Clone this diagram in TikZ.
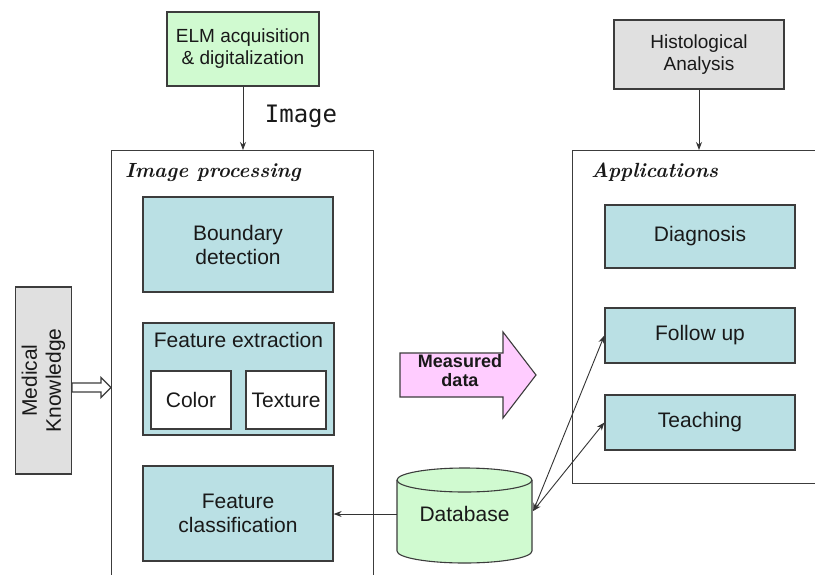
\documentclass[tikz,border=0pt]{standalone}
\usepackage{fontspec}
\newfontfamily\arial{Liberation Sans}
\newfontfamily\monof{DejaVu Sans Mono}
\usetikzlibrary{arrows.meta,calc}
\definecolor{tealbox}{RGB}{186,224,228}
\definecolor{greenbox}{RGB}{208,250,208}
\definecolor{graybox}{RGB}{224,224,224}
\definecolor{pinkbox}{RGB}{255,204,255}
\definecolor{linec}{RGB}{60,60,60}
\definecolor{txt}{RGB}{25,25,25}
\tikzset{
  box/.style={draw=linec, line width=1.3pt, fill=tealbox, inner sep=0pt, align=center,
    text=txt, font=\arial\fontsize{21}{24}\selectfont},
  whitebox/.style={box, fill=white},
  topbox/.style={box, font=\arial\fontsize{19}{22}\selectfont},
  frame/.style={draw=linec, line width=1.3pt, inner sep=0pt, anchor=north west},
  title/.style={anchor=base west, inner sep=0pt, text=txt, font=\fontsize{20.5}{24}\selectfont\bfseries\itshape},
  conn/.style={draw=black!80, line width=0.9pt, -{Stealth[length=8pt,width=6pt]}},
  conn2/.style={draw=black!80, line width=0.9pt, {Stealth[length=8pt,width=6pt]}-{Stealth[length=8pt,width=6pt]}},
}
\begin{document}
\begin{tikzpicture}[x=1pt,y=-1pt]
\clip (0,0) rectangle (815,574);
\fill[white] (0,0) rectangle (815,574);

% containers
\node[frame, minimum width=262, minimum height=460] (ip) at (111,150) {};
\node[frame, minimum width=260, minimum height=333] (apps) at (572,150) {};
\node[title] (iptitle) at (125,177) {Image processing};
\node[title] (apptitle) at (591,177) {Applications};

% top boxes
\node[topbox, fill=greenbox, minimum width=152, minimum height=74] (elm) at (243,49) {ELM acquisition\\\& digitalization};
\node[topbox, fill=graybox, minimum width=170, minimum height=69] (hist) at (699,54.5) {Histological\\Analysis};
\node[inner sep=0pt, text=txt, font=\monof\fontsize{24}{26}\selectfont] (imglabel) at (301,116) {Image};

% image processing boxes
\node[box, minimum width=190, minimum height=95] (bd) at (238,244.5) {Boundary\\detection};
\node[box, minimum width=191, minimum height=112] (fe) at (238.5,379) {};
\node[anchor=base, inner sep=0pt, text=txt, font=\arial\fontsize{21}{24}\selectfont] (fetitle) at (238.5,347) {Feature extraction};
\node[whitebox, minimum width=80, minimum height=58] (color) at (191,400) {Color};
\node[whitebox, minimum width=80, minimum height=58] (texture) at (286,400) {Texture};
\node[box, minimum width=190, minimum height=95] (fc) at (238,513.5) {Feature\\classification};

% applications boxes
\node[box, minimum width=190, minimum height=63] (diag) at (700,236.5) {Diagnosis};
\node[box, minimum width=190, minimum height=55] (fu) at (700,335.5) {Follow up};
\node[box, minimum width=190, minimum height=55] (teach) at (700,422.5) {Teaching};

% medical knowledge
\node[box, fill=graybox, minimum width=56, minimum height=187] (med) at (43.5,380.5) {};
\node[rotate=90, align=center, inner sep=0pt, text=txt, font=\arial\fontsize{21}{24}\selectfont] (medtext) at (med.center) {Medical\\Knowledge};

% hollow arrow
\coordinate (ma) at ($(med.east)+(0,7)$);
\coordinate (mt) at (ma -| ip.west);
\draw[draw=linec, line width=1.1pt, fill=white, line join=miter]
  ($(ma)+(0,-4.5)$) -- ($(mt)+(-10,-4.5)$) -- ($(mt)+(-10,-10)$) -- (mt)
  -- ($(mt)+(-10,10)$) -- ($(mt)+(-10,4.5)$) -- ($(ma)+(0,4.5)$) -- cycle;

% measured data arrow
\draw[draw=linec, line width=1.1pt, fill=pinkbox]
  (400,353) -- (503,353) -- (503,332) -- (536,375) -- (503,418) -- (503,397) -- (400,397) -- cycle;
\node[align=center, inner sep=0pt, text=txt, font=\arial\bfseries\fontsize{18}{19}\selectfont] (md) at (460,371) {Measured\\data};

% database cylinder
\fill[greenbox] (397,480) -- (397,551) arc[start angle=180, end angle=0, x radius=67.5, y radius=12] -- (532,480) -- cycle;
\draw[linec, line width=1.1pt] (397,480) -- (397,551) arc[start angle=180, end angle=0, x radius=67.5, y radius=12] -- (532,480);
\draw[linec, line width=1.1pt, fill=greenbox] (464.5,480) ellipse[x radius=67.5, y radius=12];
\node[inner sep=0pt, minimum width=135, minimum height=70, text=txt, font=\arial\fontsize{21}{24}\selectfont] (db) at (464.5,514) {Database};

% connectors
\draw[conn] (elm.south) -- (elm.south |- ip.north);
\draw[conn] (hist.south) -- (hist.south |- apps.north);
\draw[conn] (db.west) -- (db.west -| fc.east);
\draw[conn2] ($(db.east)+(1,-3)$) -- (fu.west);
\draw[conn2] ($(db.east)+(1,-3)$) -- (teach.west);
\end{tikzpicture}
\end{document}
